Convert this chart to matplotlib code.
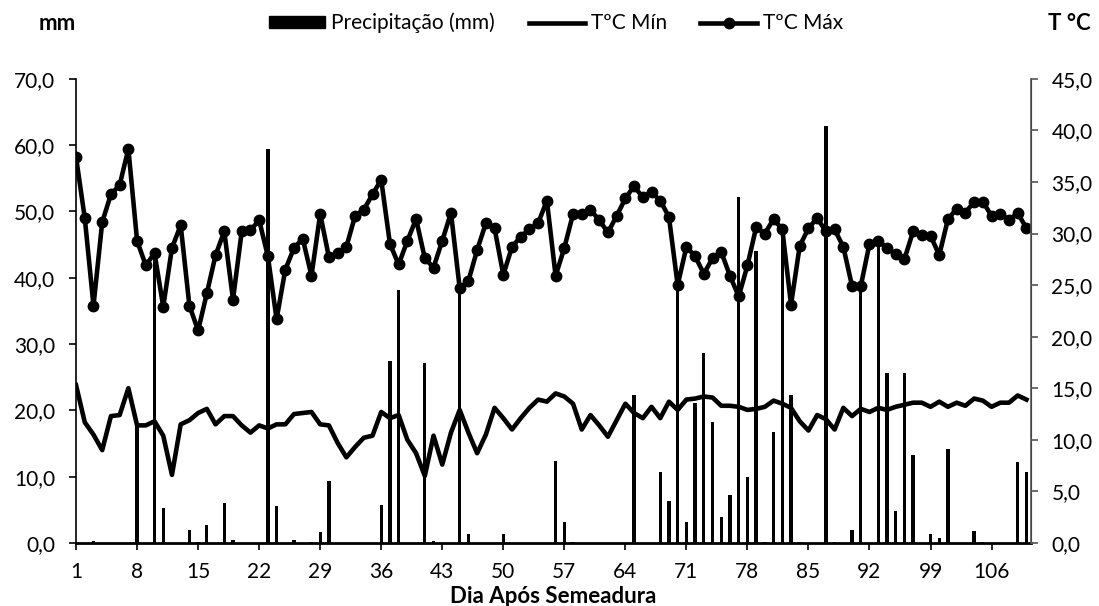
import matplotlib
matplotlib.use("Agg")
import matplotlib.pyplot as plt
from matplotlib.ticker import FuncFormatter, FixedLocator
from matplotlib.patches import Patch
from matplotlib.lines import Line2D

plt.rcParams['font.family'] = ['Lato', 'DejaVu Sans']

# Dia após semeadura
dias = list(range(1, 111))

# Precipitação (mm) por dia
precip = [0, 0, 0.3, 0, 0, 0, 0, 17.6, 0, 43.8,
          5.3, 0, 0, 1.9, 0.1, 2.7, 0, 6.0, 0.5, 0,
          0, 0, 59.4, 5.6, 0, 0.5, 0, 0.1, 1.7, 9.4,
          0, 0, 0, 0, 0, 5.7, 27.4, 38.1, 0, 0,
          27.2, 0.3, 0, 0, 38.2, 1.3, 0, 0, 0, 1.3,
          0, 0, 0, 0, 0, 12.3, 3.1, 0.1, 0, 0,
          0, 0, 0, 0, 22.3, 0, 0, 10.7, 6.4, 38.9,
          3.1, 21.1, 28.6, 18.3, 3.9, 7.2, 52.2, 9.9, 44.1, 0.2,
          16.7, 47.3, 22.3, 0.1, 0, 0, 62.9, 0.1, 0, 1.9,
          38.7, 0, 45.6, 25.7, 4.8, 25.6, 13.2, 0, 1.4, 0.7,
          14.2, 0, 0, 1.8, 0.1, 0, 0, 0, 12.2, 10.7]

# Temperatura mínima (ºC)
tmin = [15.3, 11.7, 10.5, 9.0, 12.3, 12.4, 15.0, 11.4, 11.4, 11.8,
        10.4, 6.6, 11.5, 11.9, 12.6, 13.0, 11.5, 12.3, 12.3, 11.4,
        10.7, 11.4, 11.1, 11.5, 11.5, 12.5, 12.6, 12.7, 11.5, 11.4,
        9.7, 8.3, 9.3, 10.2, 10.4, 12.7, 12.1, 12.4, 10.0, 8.7,
        6.5, 10.4, 7.6, 10.7, 12.9, 10.7, 8.7, 10.5, 13.1, 12.1,
        11.0, 12.1, 13.1, 13.9, 13.7, 14.5, 14.2, 13.5, 11.0, 12.4,
        11.4, 10.3, 11.9, 13.5, 12.6, 12.1, 13.2, 12.1, 13.7, 12.9,
        13.9, 14.0, 14.2, 14.1, 13.3, 13.3, 13.2, 12.9, 13.0, 13.2,
        13.8, 13.5, 13.1, 11.8, 10.9, 12.4, 12.0, 11.0, 13.1, 12.3,
        13.0, 12.7, 13.1, 12.9, 13.2, 13.4, 13.6, 13.6, 13.2, 13.7,
        13.2, 13.6, 13.3, 14.0, 13.8, 13.2, 13.6, 13.6, 14.3, 13.9]

# Temperatura máxima (ºC)
tmax = [37.4, 31.5, 23.0, 31.1, 33.8, 34.7, 38.2, 29.3, 26.9, 28.1,
        22.9, 28.6, 30.8, 23.0, 20.6, 24.2, 27.9, 30.2, 23.6, 30.2,
        30.3, 31.3, 27.8, 21.7, 26.5, 28.6, 29.5, 25.9, 31.9, 27.7,
        28.1, 28.7, 31.7, 32.3, 33.8, 35.2, 29.0, 27.0, 29.3, 31.4,
        27.6, 26.7, 29.3, 32.0, 24.7, 25.4, 28.4, 31.0, 30.5, 26.0,
        28.7, 29.7, 30.4, 31.0, 33.2, 25.9, 28.6, 31.9, 31.9, 32.3,
        31.3, 30.1, 31.7, 33.4, 34.6, 33.5, 34.0, 33.2, 31.6, 25.0,
        28.7, 27.8, 26.1, 27.6, 28.2, 25.9, 23.9, 26.9, 30.6, 30.0,
        31.4, 30.4, 23.1, 28.8, 30.5, 31.5, 30.2, 30.4, 28.7, 24.9,
        24.9, 29.0, 29.3, 28.6, 28.0, 27.5, 30.2, 29.9, 29.8, 27.9,
        31.4, 32.4, 32.0, 33.1, 33.1, 31.7, 31.9, 31.3, 32.0, 30.5]

fmt = FuncFormatter(lambda v, p: f"{v:.1f}".replace(".", ","))

fig = plt.figure(figsize=(10.99, 6.06), dpi=100)
ax = fig.add_axes([0.0692, 0.104, 0.8685, 0.766])
ax2 = ax.twinx()

# Barras de precipitação (eixo esquerdo)
ax.bar(dias, precip, width=0.38, color='black')
ax.set_ylim(0, 70)
ax.set_yticks(range(0, 71, 10))
ax.yaxis.set_major_formatter(fmt)
ax.set_xlim(1, 110.47)
ax.xaxis.set_major_locator(FixedLocator(list(range(1, 111, 7))))

# Linhas de temperatura (eixo direito)
ax2.plot(dias, tmin, color='black', lw=3.3)
ax2.plot(dias, tmax, color='black', lw=3.3, marker='o', ms=7.5)
ax2.set_ylim(0, 45)
ax2.set_yticks(range(0, 46, 5))
ax2.yaxis.set_major_formatter(fmt)

for a in (ax, ax2):
    a.spines['top'].set_visible(False)
    a.tick_params(labelsize=15, length=5, width=1.2, direction='out')
ax.tick_params(axis='y', pad=10)
ax.tick_params(axis='x', pad=9)
ax2.tick_params(axis='y', pad=10, colors='#555555', labelcolor='black')
ax.spines['left'].set_linewidth(1.2)
ax.spines['bottom'].set_linewidth(2)
ax2.spines['bottom'].set_visible(False)
ax2.spines['left'].set_visible(False)
ax2.spines['right'].set_color('#555555')
ax2.spines['right'].set_linewidth(1.2)

# Títulos
fig.text(0.5 * (0.0692 + 0.0692 + 0.8685), 3 / 606, "Dia Após Semeadura",
         fontsize=16, fontweight='bold', ha='center', va='baseline')
fig.text(39 / 1099, 1 - 23 / 606, "mm", fontsize=16, fontweight='bold', va='center')
fig.text(1048 / 1099, 1 - 23 / 606, "T °C", fontsize=16, fontweight='bold', va='center')

handles = [Patch(color='black', label='Precipitação (mm)'),
           Line2D([], [], color='black', lw=3.3, label='TºC Mín'),
           Line2D([], [], color='black', lw=3.3, marker='o', ms=7.5, label='TºC Máx')]
fig.legend(handles=handles, loc='center', bbox_to_anchor=(556 / 1099, 1 - 23 / 606), ncol=3,
           frameon=False, fontsize=15, handlelength=2.7, handleheight=0.5,
           handletextpad=0.3, columnspacing=1.6)

fig.savefig("out.png", dpi=100)
